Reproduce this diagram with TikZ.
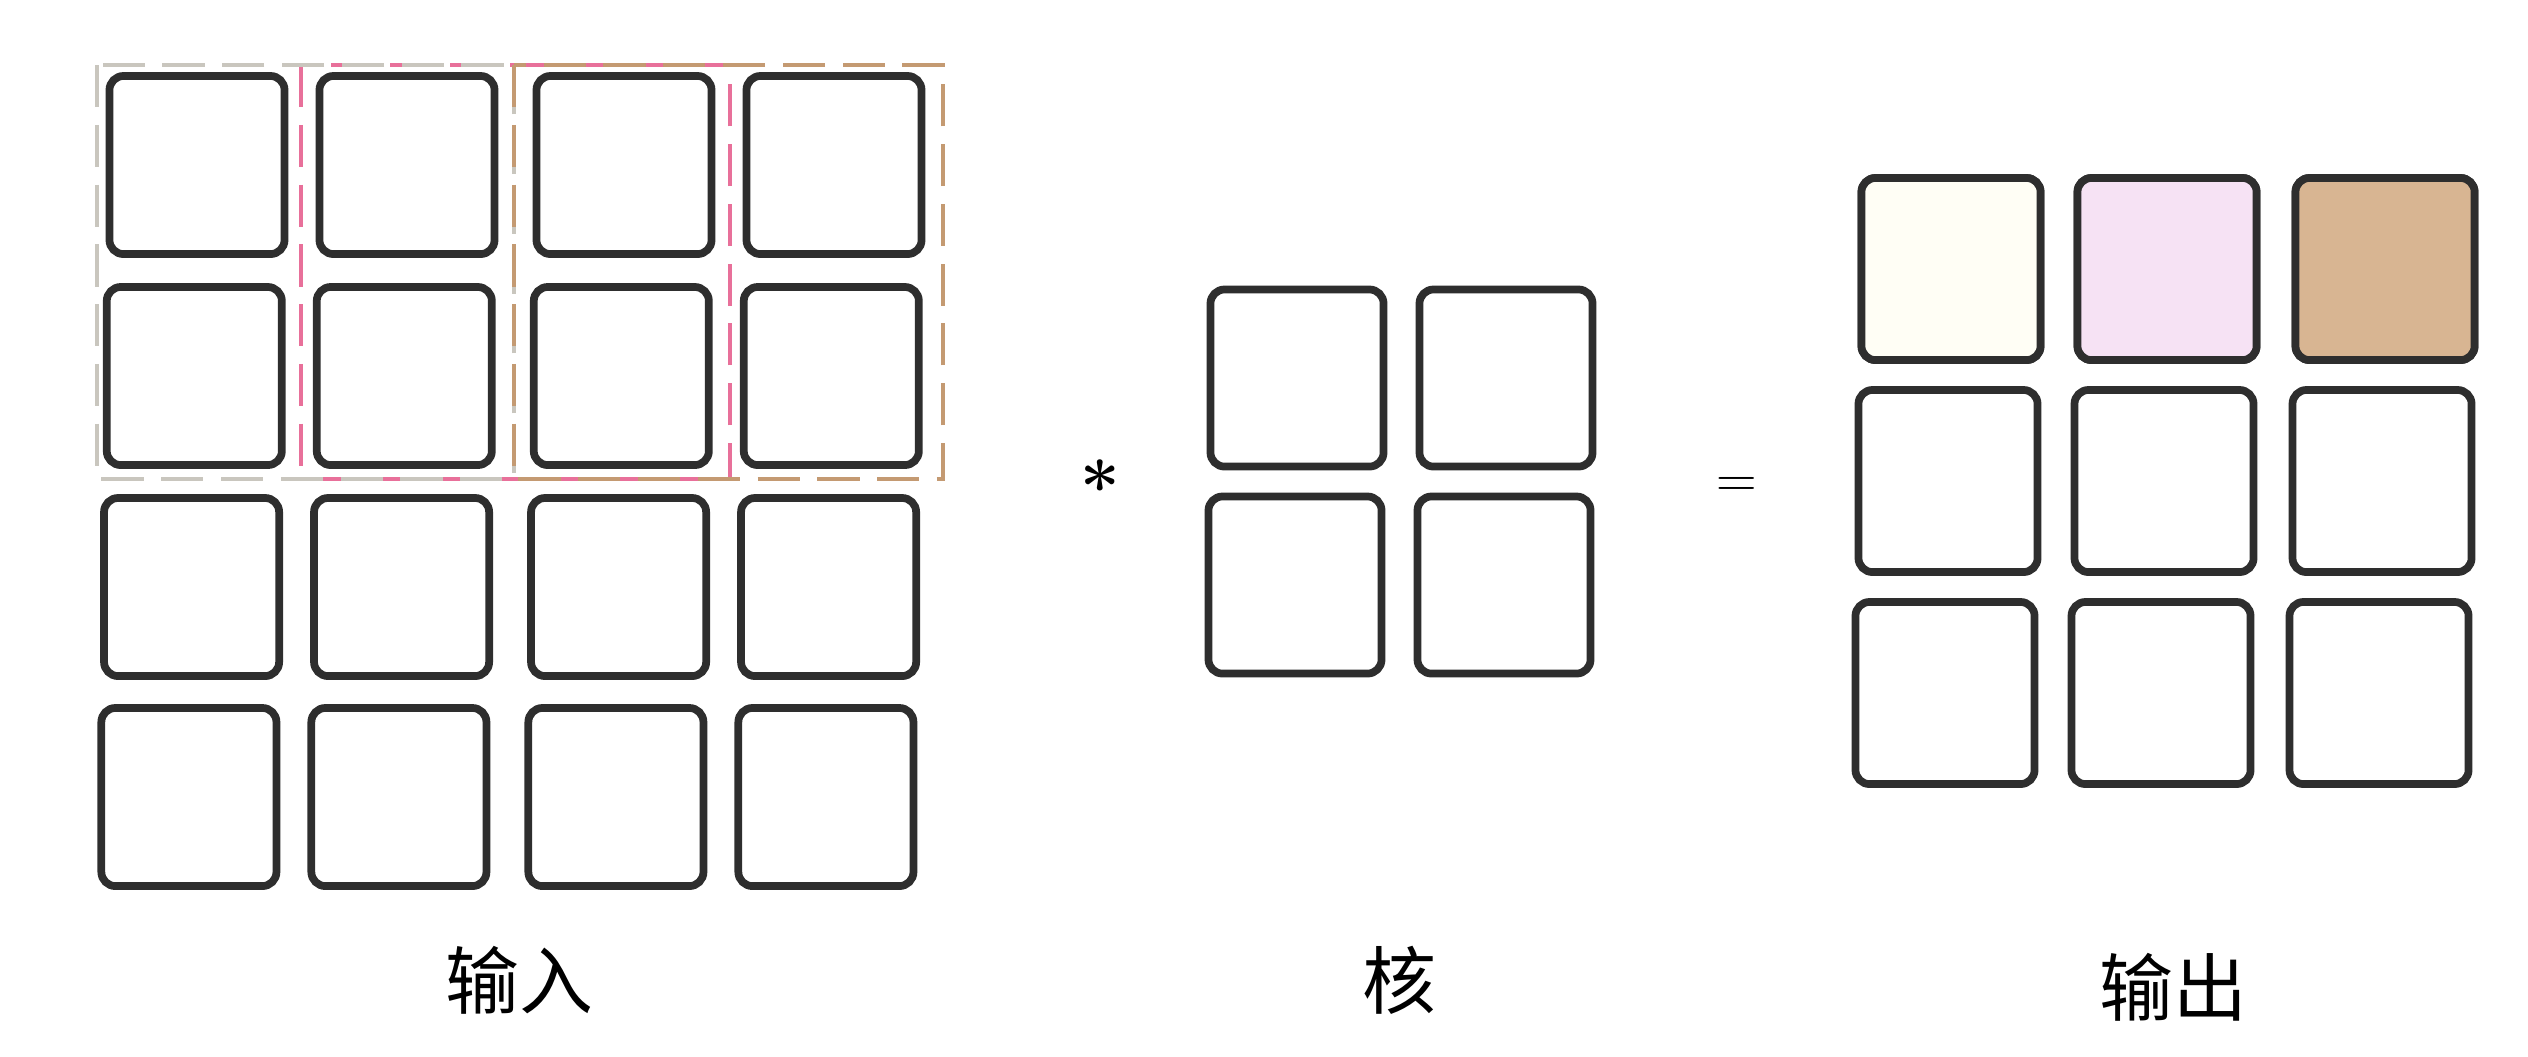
\documentclass[tikz,border=0pt]{standalone}
\usepackage{fontspec}
\newfontfamily\cjk{Noto Sans CJK SC}
\definecolor{winA}{HTML}{C9C6BE}
\definecolor{winB}{HTML}{E8709A}
\definecolor{winC}{HTML}{C49A72}
\definecolor{outA}{HTML}{FFFEF5}
\definecolor{outB}{HTML}{F6E2F4}
\definecolor{outC}{HTML}{D8B592}
\begin{document}
\begin{tikzpicture}[x=0.01cm,y=-0.01cm,
  cell/.style={draw=black!82,line width=2.2pt,rounded corners=4pt,inner sep=0pt,fill=white},
  incell/.style={cell,minimum width=1.75cm,minimum height=1.78cm},
  kcell/.style={cell,minimum width=1.73cm,minimum height=1.77cm},
  ocell/.style={cell,minimum width=1.79cm,minimum height=1.82cm},
  win/.style={line width=1.3pt,dash pattern=on 12pt off 5pt},
  lab/.style={font=\cjk\fontsize{21pt}{21pt}\selectfont,inner sep=0pt},
  op/.style={font=\fontsize{16pt}{16pt}\selectfont,inner sep=0pt}]
\useasboundingbox (0,0) rectangle (2528,1056);
% input grid
\foreach \r/\y in {1/165,2/376,3/587,4/797}{
  \foreach \c/\x in {1/197,2/407,3/624,4/834}{
    \node[incell] (in\r\c) at ({\x-2.7*(\r-1)},\y) {};
  }
}
% sliding windows
\coordinate (wa1) at (97,65);   \coordinate (wa2) at (514,479);
\coordinate (wb1) at (301,65);  \coordinate (wb2) at (730,479);
\coordinate (wc1) at (514,65);  \coordinate (wc2) at (943,479);
\draw[win,winB] (wb1) rectangle (wb2);
\draw[win,winA] (wa1) rectangle (wa2);
\draw[win,winC] (wc1) rectangle (wc2);
% kernel
\foreach \r/\y in {1/378,2/585}{
  \foreach \c/\x in {1/1297,2/1506}{
    \node[kcell] (k\r\c) at ({\x-2*(\r-1)},\y) {};
  }
}
% output
\foreach \r/\y in {1/269,2/481,3/693}{
  \foreach \c/\x in {1/1951,2/2167,3/2385}{
    \node[ocell] (o\r\c) at ({\x-3*(\r-1)},\y) {};
  }
}
\node[ocell,fill=outA] at (o11) {};
\node[ocell,fill=outB] at (o12) {};
\node[ocell,fill=outC] at (o13) {};
% operators
\node[op,font=\fontsize{20pt}{20pt}\selectfont\bfseries] (star) at (1100,486) {*};
\node[op] (eq) at (1737,487) {=};
% labels
\node[lab] (linput) at (519,980) {输入};
\node[lab] (lkernel) at (1399,980) {核};
\node[lab] (loutput) at (2173,987) {输出};
\end{tikzpicture}
\end{document}
